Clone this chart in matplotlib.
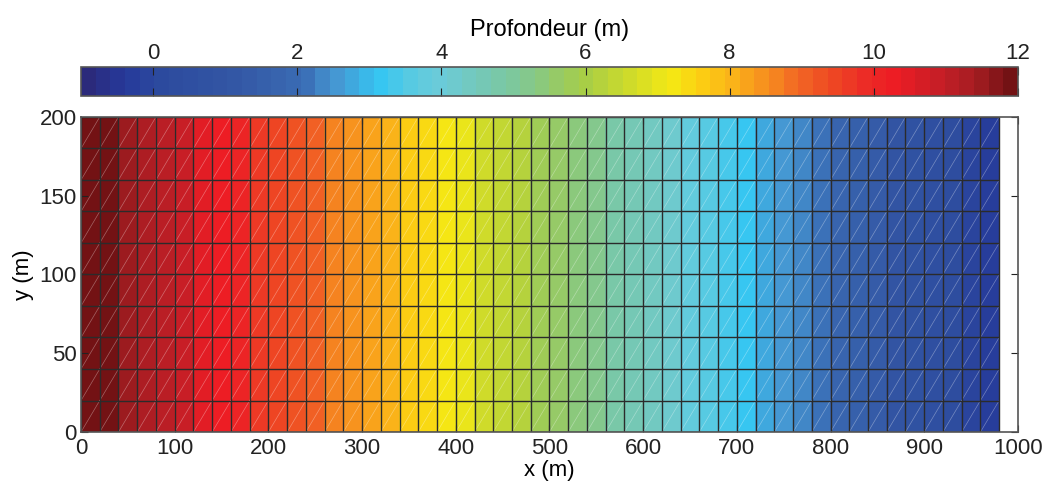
import numpy as np
import matplotlib
matplotlib.use("Agg")
import matplotlib.pyplot as plt
import matplotlib.tri as mtri
from matplotlib.colors import LinearSegmentedColormap, ListedColormap, Normalize

# ============================================================
# Maillage et profondeur
# ============================================================

x_nodes = [0, 20, 40, 60, 80, 100, 120, 140, 160, 180, 200, 220, 240, 260,
           280, 300, 320, 340, 360, 380, 400, 420, 440, 460, 480, 500, 520,
           540, 560, 580, 600, 620, 640, 660, 680, 700, 720, 740, 760, 780,
           800, 820, 840, 860, 880, 900, 920, 940, 960, 980]
y_nodes = [0, 20, 40, 60, 80, 100, 120, 140, 160, 180, 200]

# profondeur moyenne de chaque colonne de mailles (m)
depth_cols = [12.07, 11.81, 11.56, 11.30, 11.04, 10.79, 10.53, 10.27, 10.02,
              9.76, 9.50, 9.24, 8.99, 8.73, 8.47, 8.22, 7.96, 7.70, 7.45,
              7.19, 6.93, 6.67, 6.42, 6.16, 5.90, 5.65, 5.39, 5.13, 4.88,
              4.62, 4.36, 4.10, 3.85, 3.59, 3.33, 3.08, 2.82, 2.56, 2.31,
              2.05, 1.79, 1.53, 1.28, 1.02, 0.76, 0.51, 0.25, -0.01, -0.27]

cbar_ticks = [0, 2, 4, 6, 8, 10, 12]
x_ticks = [0, 100, 200, 300, 400, 500, 600, 700, 800, 900, 1000]
y_ticks = [0, 50, 100, 150, 200]

anchor_vals = [-1.0, -0.5, 0.0, 1.0, 2.0, 2.5, 3.1, 3.6, 4.0, 4.5, 5.0, 5.5,
               6.0, 6.5, 7.0, 7.2, 7.6, 8.0, 8.5, 9.0, 9.5, 10.0, 10.4, 11.0,
               11.5, 12.0]
anchor_cols = ["#2b2a7b", "#26399a", "#2c4a9e", "#3356a4", "#3a6cb4", "#4597d2",
               "#35c6f2", "#5ccbe0", "#6ccbd8", "#74c8b8", "#7ec89a", "#90c972",
               "#a6cd48", "#c6d830", "#e6e31c", "#f4ea14", "#fcd012", "#fbb918",
               "#f7921e", "#f26a24", "#ee4823", "#ec2a26", "#ed1c24", "#c71e26",
               "#a51d22", "#731214"]

vmin, vmax = -1.0, 12.0

plt.rcParams["font.family"] = ["Liberation Sans", "DejaVu Sans"]
plt.rcParams["font.size"] = 16

# colormap 64 couleurs
pos = [(v - vmin) / (vmax - vmin) for v in anchor_vals]
base = LinearSegmentedColormap.from_list("prof", list(zip(pos, anchor_cols)))
cmap = ListedColormap(base(np.linspace(0, 1, 64)))
norm = Normalize(vmin=vmin, vmax=vmax)

# triangulation
nx, ny = len(x_nodes), len(y_nodes)
X, Y = np.meshgrid(x_nodes, y_nodes)
px, py = X.ravel(), Y.ravel()
tris, face_vals = [], []
for j in range(ny - 1):
    for i in range(nx - 1):
        a = j * nx + i
        b = a + 1
        c = a + nx
        d = c + 1
        tris.append([a, b, d])
        tris.append([a, d, c])
        face_vals += [depth_cols[i], depth_cols[i]]
tri = mtri.Triangulation(px, py, np.array(tris))

fig = plt.figure(figsize=(10.48, 4.84), dpi=100)
ax = fig.add_axes([0.0773, 0.1074, 0.894, 0.651])
cax = fig.add_axes([0.0773, 0.8017, 0.894, 0.0599])

tpc = ax.tripcolor(tri, facecolors=np.array(face_vals), cmap=cmap, norm=norm,
                   edgecolors="none")

# diagonales claires
for j in range(ny - 1):
    for i in range(nx - 1):
        ax.plot([x_nodes[i], x_nodes[i + 1]], [y_nodes[j], y_nodes[j + 1]],
                color="white", alpha=0.35, lw=0.5)

# grille du maillage
ax.vlines(x_nodes, y_nodes[0], y_nodes[-1], colors="#2b2b2b", lw=1.0)
ax.hlines(y_nodes, x_nodes[0], x_nodes[-1], colors="#2b2b2b", lw=1.0)

ax.set_xlim(0, 1000)
ax.set_ylim(0, 200)
ax.set_xticks(x_ticks)
ax.set_yticks(y_ticks)
ax.tick_params(axis="both", direction="in", length=5, right=True, top=True,
               colors="#222222", labelsize=16)
ax.tick_params(axis="x", pad=4)
ax.tick_params(axis="y", pad=3)
for sp in ax.spines.values():
    sp.set_color("#555555")
    sp.set_linewidth(1.2)
ax.set_xlabel("x (m)", labelpad=1, fontsize=16)
ax.set_ylabel("y (m)", labelpad=4, fontsize=16)

cb = fig.colorbar(tpc, cax=cax, orientation="horizontal")
cb.set_ticks(cbar_ticks)
cax.tick_params(direction="in", length=6, top=True, bottom=True,
                labeltop=True, labelbottom=False, labelsize=16, pad=2,
                colors="#222222")
cax.xaxis.set_label_position("top")
cb.set_label("Profondeur (m)", labelpad=5, fontsize=17)
cb.outline.set_edgecolor("#555555")
cb.outline.set_linewidth(1.2)

fig.savefig("out.png", dpi=100)
